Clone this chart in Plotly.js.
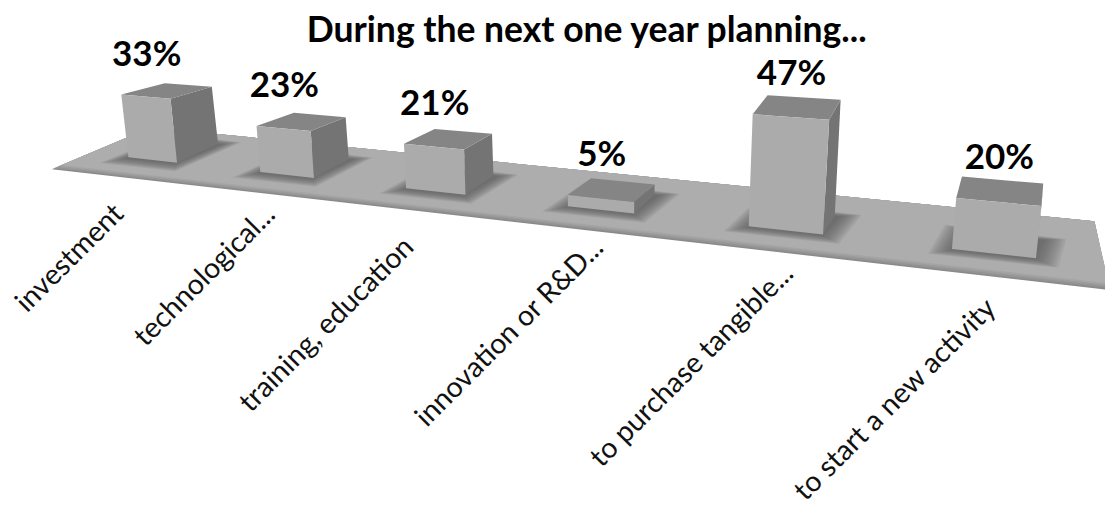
<!DOCTYPE html>
<html><head><meta charset="utf-8">
<script src="https://cdn.plot.ly/plotly-3.0.1.min.js"></script>
<style>html,body{margin:0;padding:0;background:#fff}#c{width:1105px;height:506px}</style>
</head><body><div id="c"></div>
<script>
const categories = ["investment","technological...","training, education","innovation or R&D...","to purchase tangible...","to start a new activity"];
const values = [33,23,21,5,47,20];
const labelRight = [132,284,423,612,802,1005];
const labelTop = [193,193,226,227,253,287];

// Perspective camera of the tilted 3D chart
function groundX(c){return (90+117.84*c)/(1-0.04673*c);}
function P(c,d,v,top){
  const x0=groundX(c), y0=143.04+0.1112*x0;
  const s=1.8+0.00078*x0, h=v*s;
  const lean=(x0-600)*0.00024;
  const xf=x0+lean*h;
  const rise=top?(10+0.012*xf):19;
  return [xf+d*0.0453*(1082-xf), y0-h-d*rise];
}
function poly(pts,color,opacity){
  return {type:'scatter',mode:'lines',x:pts.map(p=>p[0]).concat(pts[0][0]),y:pts.map(p=>p[1]).concat(pts[0][1]),
    fill:'toself',fillcolor:color,line:{width:0,color:color},opacity:opacity===undefined?1:opacity,hoverinfo:'skip',showlegend:false};
}
const traces=[];
// floor
function floorPts(i){
  const f=i*0.09;
  return [P(0,-0.85+f*0.6,0),P(0,1.35,0),P(5.95,2.3,0),P(6,-1.25+f,0)];
}
['#8a8a8a','#939393','#9c9c9c','#a5a5a5','#adadad'].forEach((col,i)=>traces.push(poly(floorPts(i),col)));
// soft shadows
const half=0.19;
values.forEach((v,i)=>{
  const c=i+0.5;
  for(let k=9;k>=0;k--){
    const e=k*0.011, df=k*0.036, db=k*0.02;
    traces.push(poly([P(c-half-e,-0.05-df,0),P(c-half-e+0.03,1+db,0),P(c+half+e+0.03,1+db,0),P(c+half+e,-0.05-df,0)],'#555555',0.105));
  }
});
// bars
values.forEach((v,i)=>{
  const c=i+0.5, L=c-half, R=c+half;
  traces.push(poly([P(R,0,0),P(R,1,0),P(R,1,v,true),P(R,0,v,true)],'#747474'));
  traces.push(poly([P(L,0,v,true),P(L,1,v,true),P(R,1,v,true),P(R,0,v,true)],'#858585'));
  traces.push(poly([P(L,0,0),P(R,0,0),P(R,0,v,true),P(L,0,v,true)],'#ababab'));
});
// value labels
traces.push({type:'scatter',mode:'text',
  x:values.map((v,i)=>P(i+0.5,0,v,true)[0]+1),
  y:values.map((v,i)=>{const t=P(i+0.3,1,v,true);return t[1]-28+t[0]*0.012;}),
  text:values.map(v=>v+'%'),textposition:'middle center',
  textfont:{family:'Lato, Carlito, sans-serif',size:35,color:'#000',weight:700},
  hoverinfo:'skip',showlegend:false});

const annotations=categories.map((t,i)=>({
  text:t,x:labelRight[i],y:labelTop[i],xref:'x',yref:'y',xanchor:'right',yanchor:'top',
  textangle:-45,showarrow:false,font:{family:'Lato, Carlito, sans-serif',size:28.5,color:'#111'}
}));
const layout={
  width:1105,height:506,margin:{l:0,r:0,t:0,b:0},
  paper_bgcolor:'#fff',plot_bgcolor:'#fff',showlegend:false,
  title:{text:'<b>During the next one year planning...</b>',x:0.531,xanchor:'center',y:0.942,yanchor:'middle',
    font:{family:'Lato, Carlito, sans-serif',size:35.5,color:'#000'}},
  xaxis:{range:[0,1105],visible:false,fixedrange:true},
  yaxis:{range:[506,0],visible:false,fixedrange:true},
  annotations
};
Plotly.newPlot('c',traces,layout,{displayModeBar:false,staticPlot:true});
</script></body></html>
